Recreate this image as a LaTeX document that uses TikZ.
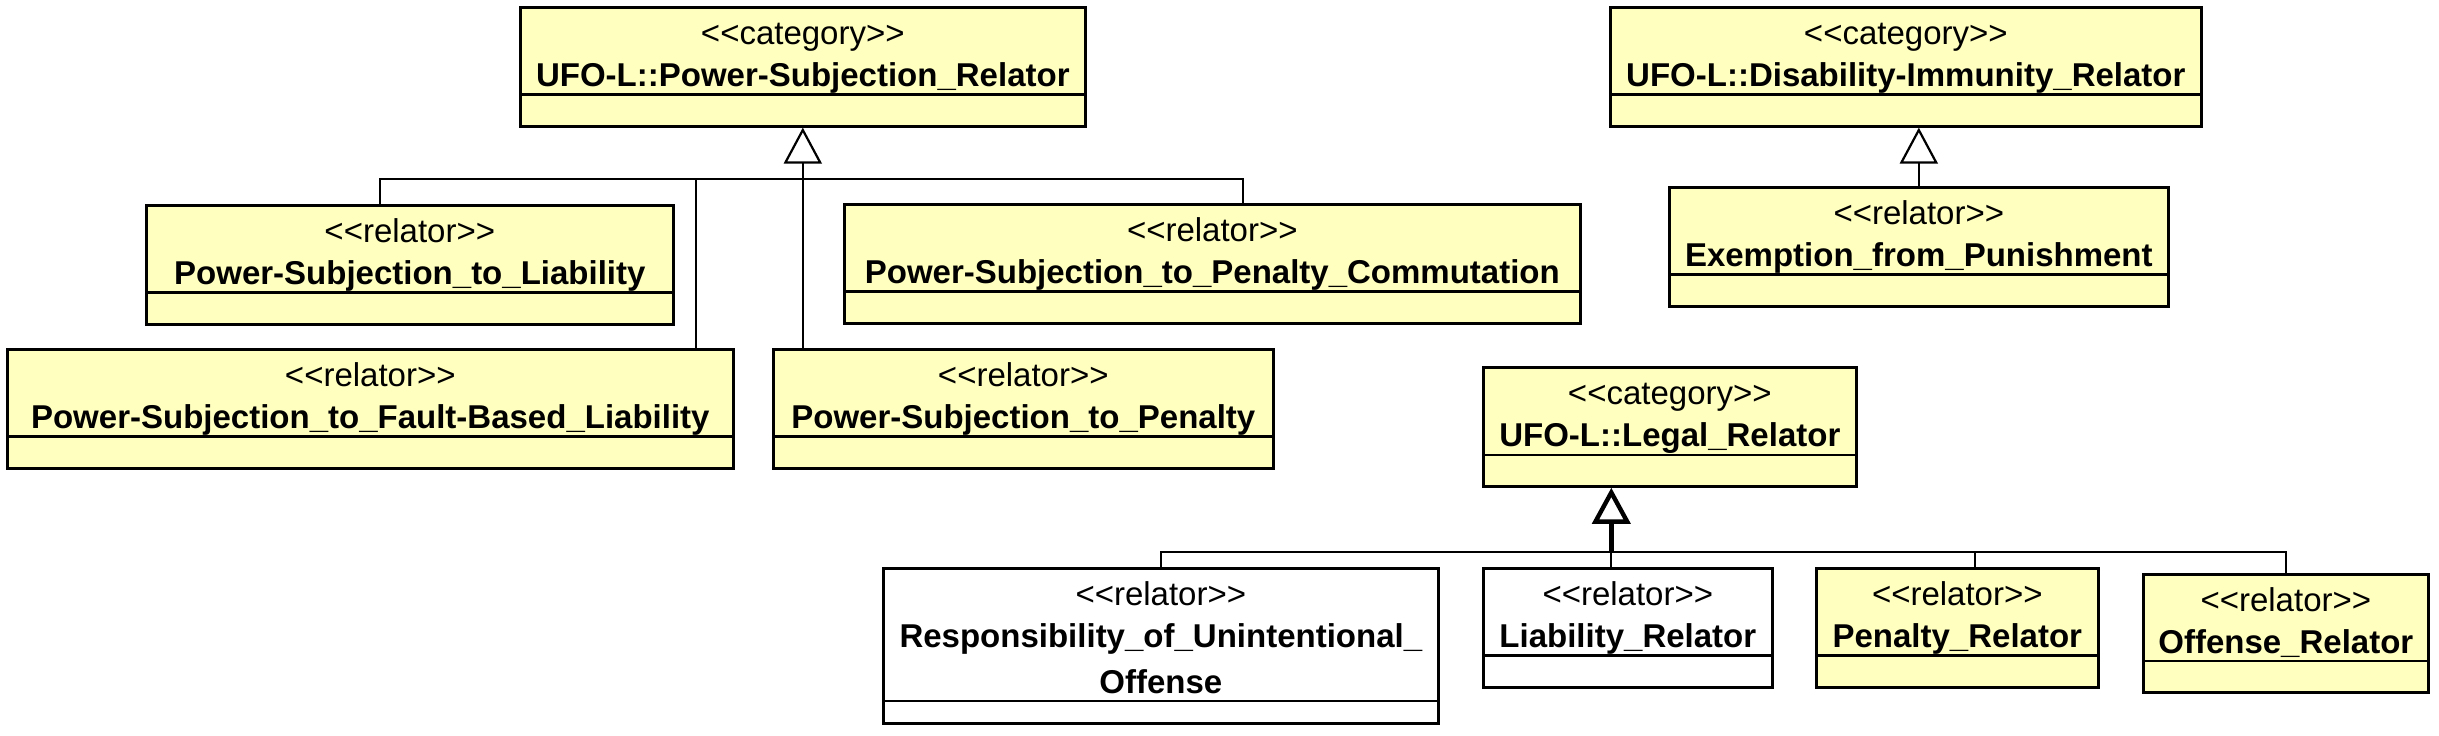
\documentclass[tikz,border=0pt]{standalone}
\usepackage{fontspec}
\setmainfont{Liberation Sans}
\usetikzlibrary{shapes.multipart,arrows.meta}

\definecolor{classyellow}{RGB}{255,255,192}
% stereotype and class name of the upper compartment
\newcommand{\stereo}[1]{<\kern0pt<#1>\kern0pt>}
\newcommand{\umlname}[2]{\rule{0pt}{18pt}\stereo{#1}\\\textbf{#2}\rule[-3pt]{0pt}{3pt}}
\newcommand{\umlempty}[1][14.5pt]{\rule{0pt}{#1}}

\begin{document}
\begin{tikzpicture}[x=1pt, y=-1pt,
  umlbox/.style = {rectangle split, rectangle split parts=2,
    draw, line width=1.3pt, fill=classyellow, anchor=north west,
    align=center, inner xsep=0pt, inner ysep=0pt,
    font=\fontsize{16.5}{21}\selectfont},
  plainbox/.style = {umlbox, fill=white},
  genline/.style = {line width=1.1pt},
  gentip/.style = {genline, -{Triangle[open, length=18pt, width=19pt]}}]

  \useasboundingbox (0,0) rectangle (1219.5,367.5);

  % Power-Subjection
  \node[umlbox, text width=282.5pt] (psr) at (259.5,3)
    {\umlname{category}{UFO-L::Power-Subjection\_Relator}\nodepart{two}\umlempty};
  \node[umlbox, text width=263.5pt] (psl) at (72.5,102)
    {\umlname{relator}{Power-Subjection\_to\_Liability}\nodepart{two}\umlempty};
  \node[umlbox, text width=368pt] (pspc) at (421.5,101.5)
    {\umlname{relator}{Power-Subjection\_to\_Penalty\_Commutation}\nodepart{two}\umlempty};
  \node[umlbox, text width=363pt] (psfbl) at (3,174)
    {\umlname{relator}{Power-Subjection\_to\_Fault-Based\_Liability}\nodepart{two}\umlempty};
  \node[umlbox, text width=250pt] (psp) at (386,174)
    {\umlname{relator}{Power-Subjection\_to\_Penalty}\nodepart{two}\umlempty};

  % Disability-Immunity
  \node[umlbox, text width=295.5pt] (dir) at (804.5,3)
    {\umlname{category}{UFO-L::Disability-Immunity\_Relator}\nodepart{two}\umlempty};
  \node[umlbox, text width=249.5pt] (efp) at (834,93)
    {\umlname{relator}{Exemption\_from\_Punishment}\nodepart{two}\umlempty};

  % Legal relators
  \node[umlbox, text width=186.5pt] (lr) at (741,183)
    {\umlname{category}{UFO-L::Legal\_Relator}\nodepart{two}\umlempty};
  \node[plainbox, text width=277.5pt] (ruo) at (441,283.5)
    {\umlname{relator}{Responsibility\_of\_Unintentional\_\\[2pt]Offense}\nodepart{two}\umlempty[10pt]};
  \node[plainbox, text width=144.5pt] (liabr) at (741,283.5)
    {\umlname{relator}{Liability\_Relator}\nodepart{two}\umlempty};
  \node[umlbox, text width=141pt] (penr) at (907.5,283.5)
    {\umlname{relator}{Penalty\_Relator}\nodepart{two}\umlempty};
  \node[umlbox, text width=142.5pt] (offr) at (1071,286.5)
    {\umlname{relator}{Offense\_Relator}\nodepart{two}\umlempty};

  % generalisations
  \coordinate (psjoin) at ([yshift=-25.5pt]psr.south);
  \coordinate (fbldrop) at ([xshift=-19.5pt]psfbl.north east);
  \draw[gentip] (psp.north -| psr.south) -- (psr.south);
  \draw[genline] ([xshift=-14.75pt]psl.north) |- (psjoin)
    -| ([xshift=15.5pt]pspc.north);
  \draw[genline] (fbldrop) -- (fbldrop |- psjoin);

  \draw[gentip] (efp.north) -- (efp.north |- dir.south);

  \coordinate (lrdrop) at ([xshift=-8.25pt]liabr.north);
  \coordinate (lrjoin) at ([yshift=7.5pt]lrdrop);
  \coordinate (pendrop) at ([xshift=9pt]penr.north);
  \draw[gentip, line width=2.2pt] (lrjoin) -- (lrjoin |- lr.south);
  \draw[genline] (lrdrop) -- (lrjoin);
  \draw[genline] (ruo.north) |- (lrjoin) -| (offr.north);
  \draw[genline] (pendrop) -- (pendrop |- lrjoin);
\end{tikzpicture}
\end{document}
